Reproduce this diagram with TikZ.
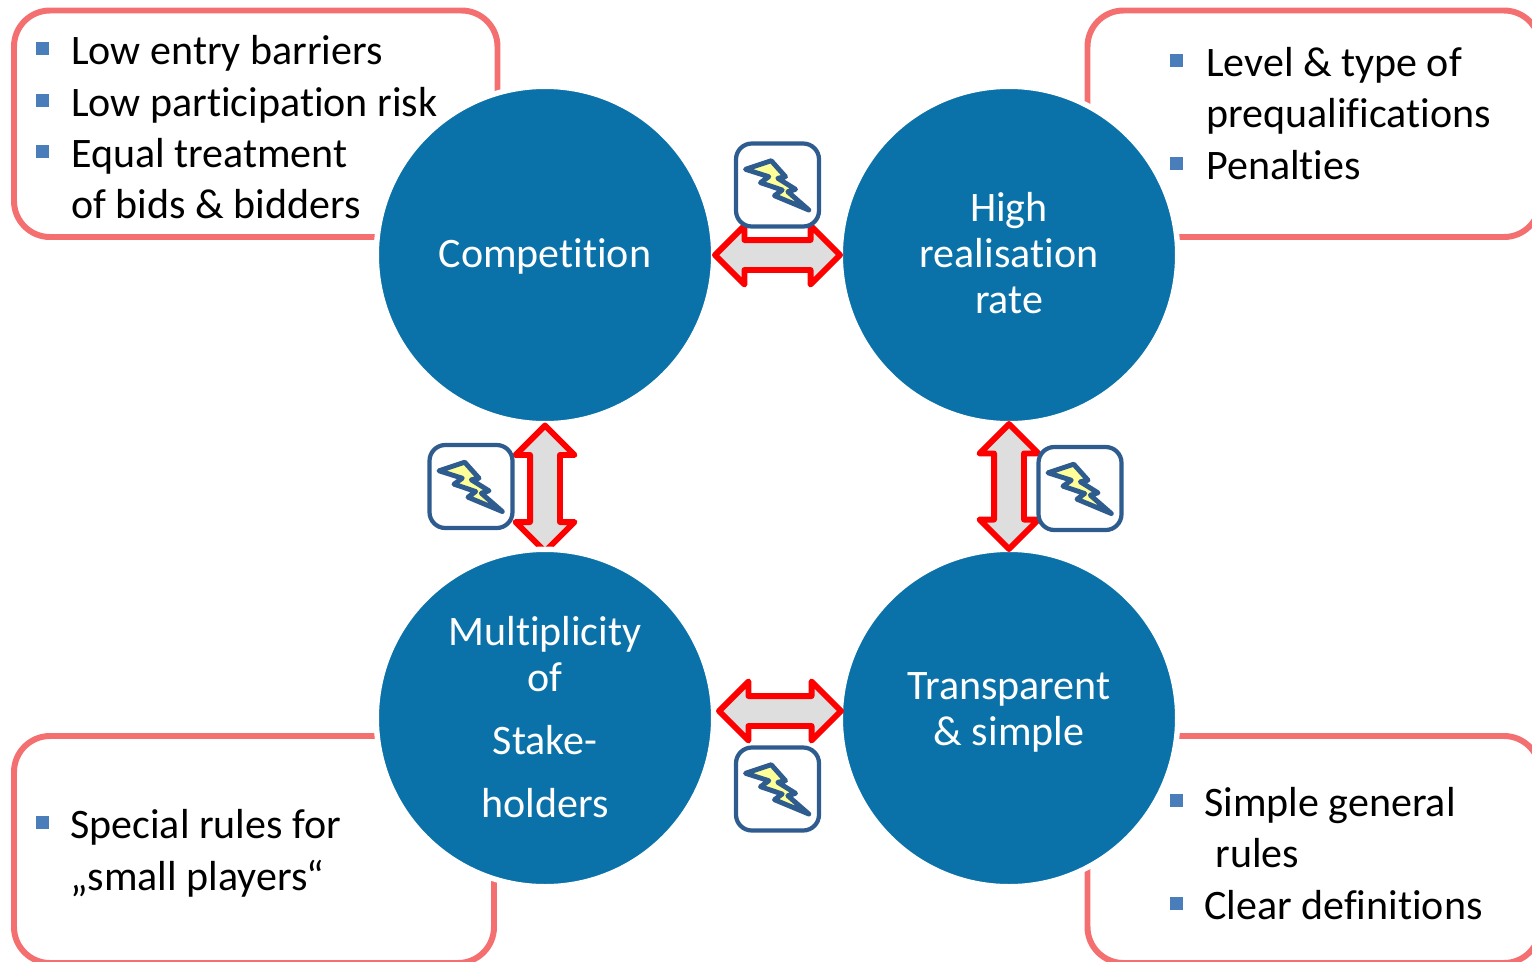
\documentclass[tikz,border=0pt]{standalone}
\usepackage{fontspec}
\setmainfont[Ligatures=CommonOff]{Carlito}
\usetikzlibrary{%
    shapes.arrows,%
    positioning%
}
\definecolor{discblue}{HTML}{0A72A8}
\definecolor{framered}{HTML}{F47070}
\definecolor{bulletblue}{HTML}{4A7EBB}
\definecolor{boxblue}{HTML}{2F5C8F}
\definecolor{boltyellow}{HTML}{FFFF99}
\tikzset{
	frameline/.style={framered, line width=3.4pt, rounded corners=20.5pt},
	disc/.style={circle, fill=discblue, draw=white, line width=3.1pt, minimum size=6.75cm, inner sep=0pt, outer sep=0pt},
	disctext/.style={text=white, inner sep=0pt, align=center, font=\fontsize{23.9}{26}\selectfont},
	twoway/.style={double arrow, draw=red, fill=black!13, line width=3.4pt, line join=round, double arrow head extend=0.29cm, double arrow tip angle=90, outer sep=0pt, inner sep=0.24cm},
	clash/.style={rectangle, rounded corners=9pt, draw=boxblue, fill=white, line width=2.4pt, minimum size=1.66cm, outer sep=0pt},
	boltline/.style={draw=boxblue, fill=boltyellow, line width=2.8pt, line join=round},
	itemtext/.style={anchor=base west, inner sep=0pt, font=\fontsize{23.9}{26}\selectfont},
	bullet/.style={rectangle, fill=bulletblue, minimum size=0.26cm, inner sep=0pt}
}
\begin{document}
\begin{tikzpicture}[x=0.02cm,y=-0.02cm]
	\useasboundingbox (0,0) rectangle (1532,961);
	\clip (0,0) rectangle (1532,961);

	% frames behind the discs
	\draw[frameline] (14,10.5) rectangle (497.5,237);
	\draw[frameline] (1087.5,10.5) rectangle (1540,237);
	\draw[frameline] (14,736) rectangle (494,963);
	\draw[frameline] (1087.5,736) rectangle (1540,963);

	% discs, the left arrow goes under the lower ones
	\node[disc] (comp) at (545,255) {};
	\node[disc] (high) at (1009,255) {};
	\node[twoway, minimum height=2.52cm, shape border rotate=90] (compStake) at (545,488.5) {};
	\node[disc] (stake) at (545,718) {};
	\node[disc] (trans) at (1009,718) {};

	% double arrows
	\node[twoway, minimum height=2.5cm] (compHigh) at (777.5,255) {};
	\node[twoway, minimum height=2.44cm] (stakeTrans) at (780,711) {};
	\node[twoway, minimum height=2.5cm, shape border rotate=90] (highTrans) at (1009,486.5) {};

	% disc texts
	\node[disctext] (compText) at (545,256) {Competition};
	\node[disctext] (highText) at (1009,253) {High\\realisation\\rate};
	\node[disctext] (stakeText) at (545,717) {Multiplicity\\of\\[10pt]Stake-\\[10pt]holders};
	\node[disctext] (transText) at (1009,712.5) {Transparent\\\& simple};

	% conflict boxes
	\node[clash] (boltTop) at (777.5,185) {};
	\node[clash] (boltLeft) at (471,486.5) {};
	\node[clash] (boltRight) at (1080,488.5) {};
	\node[clash] (boltBottom) at (777.5,789) {};
	\foreach \bx in {boltTop,boltLeft,boltRight,boltBottom}
		\draw[boltline, shift={(\bx.center)}] (-32,-15.7) -- (-6.3,-24.3) -- (8,-8.3) -- (0.3,-6.7) -- (18,4.3) -- (10.3,6.7) -- (31.3,25) -- (-3,10.7) -- (4.7,5) -- (-17,-2.3) -- (-8.7,-8.3) -- cycle;

	% top left
	\node[bullet] (tlA) at (42.5,48) {};
	\node[bullet] (tlB) at (42.5,100) {};
	\node[bullet] (tlC) at (42.5,151) {};
	\node[itemtext] (tlOne) at (71,64) {Low entry barriers};
	\node[itemtext] (tlTwo) at (71,116) {Low participation risk};
	\node[itemtext] (tlThree) at (71,167) {Equal treatment};
	\node[itemtext] (tlFour) at (71,218) {of bids \& bidders};

	% top right
	\node[bullet] (trA) at (1176.5,60) {};
	\node[bullet] (trB) at (1176.5,163) {};
	\node[itemtext] (trOne) at (1206,76) {Level \& type of};
	\node[itemtext] (trTwo) at (1206,127.5) {prequalifications};
	\node[itemtext] (trThree) at (1206,179) {Penalties};

	% bottom left
	\node[bullet] (blA) at (42.5,822) {};
	\node[itemtext] (blOne) at (70,838) {Special rules for};
	\node[itemtext] (blTwo) at (70,890) {„small players“};

	% bottom right
	\node[bullet] (brA) at (1176.5,800) {};
	\node[bullet] (brB) at (1176.5,903) {};
	\node[itemtext] (brOne) at (1204,816) {Simple general};
	\node[itemtext] (brTwo) at (1215,867) {rules};
	\node[itemtext] (brThree) at (1204,919) {Clear definitions};
\end{tikzpicture}
\end{document}
